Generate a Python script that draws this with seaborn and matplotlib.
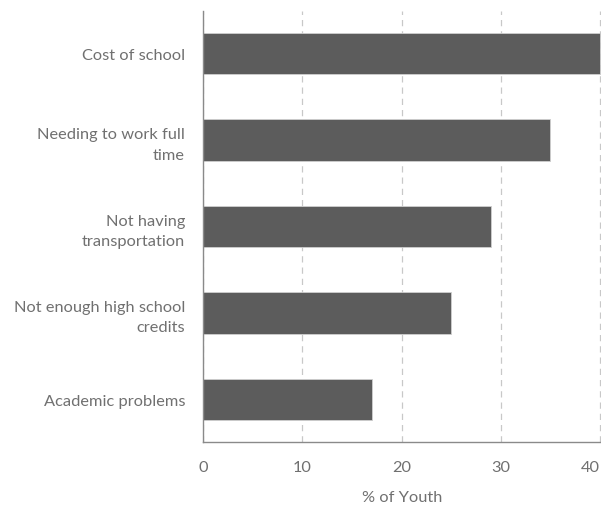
import matplotlib
matplotlib.use('Agg')
import matplotlib.pyplot as plt
import pandas as pd
import seaborn as sns

categories = [
    'Cost of school',
    'Needing to work full\ntime',
    'Not having\ntransportation',
    'Not enough high school\ncredits',
    'Academic problems',
]
values = [40.0, 35.0, 29.0, 25.0, 17.0]

df = pd.DataFrame({'reason': categories, 'pct': values})

sns.set_style('white')
plt.rcParams['font.family'] = ['Lato', 'DejaVu Sans']

fig = plt.figure(figsize=(6.01, 5.06), dpi=100)
ax = fig.add_axes([0.338, 0.125, 0.662, 0.851])

sns.barplot(data=df, x='pct', y='reason', color='#5c5c5c', saturation=1,
            width=0.48, edgecolor='#cfcfcf', linewidth=0.6, ax=ax)

ax.set_xlim(0, 40.1)
ax.set_ylim(4.49, -0.49)
ax.set_xticks([0, 10, 20, 30, 40])
ax.xaxis.grid(True, linestyle=(0, (5, 4)), color='#c8c8c8', linewidth=0.9)
ax.set_axisbelow(True)

for s in ['top', 'right']:
    ax.spines[s].set_visible(False)
for s in ['left', 'bottom']:
    ax.spines[s].set_color('#8a8a8a')
    ax.spines[s].set_linewidth(1.0)

ax.tick_params(axis='both', length=0, labelsize=11.8, labelcolor='#707070')
ax.tick_params(axis='x', pad=13)
ax.tick_params(axis='y', pad=13)
ax.set_yticks(range(len(categories)))
ax.set_yticklabels(categories, ha='right', multialignment='right', linespacing=1.55)
ax.get_xticklabels()[-1].set_horizontalalignment('right')

ax.set_ylabel('')
ax.set_xlabel('% of Youth', fontsize=11.8, color='#707070', labelpad=12)

fig.savefig('out.png', dpi=100)
